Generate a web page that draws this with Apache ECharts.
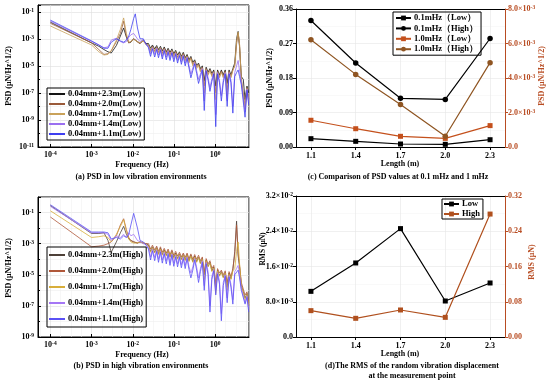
<!DOCTYPE html>
<html><head><meta charset="utf-8">
<script src="https://cdn.jsdelivr.net/npm/echarts@6/dist/echarts.min.js"></script>
<style>html,body{margin:0;padding:0;background:#fff}#c{width:550px;height:384px}</style>
</head><body><div id="c"></div>
<script>
// ---------- data: PSD spectra (Hz, μN/Hz^1/2) ----------
const freqHz = [1e-4, 1e-3, 1.5e-3, 2e-3, 2.5e-3, 3e-3, 4e-3, 5e-3, 6e-3, 7e-3, 8e-3, 9e-3, 0.0105, 0.0115, 0.013, 0.015, 0.018, 0.021,
0.024, 0.027, 0.030, 0.034, 0.038, 0.042, 0.047, 0.052, 0.058, 0.065,
0.072, 0.080, 0.089, 0.099, 0.11, 0.122, 0.136, 0.151, 0.168, 0.187,
0.208, 0.231, 0.257, 0.286, 0.318, 0.354, 0.394, 0.438, 0.487, 0.542,
0.603, 0.671, 0.746, 0.83, 0.923, 1.03, 1.14, 1.27, 1.41, 1.57,
1.75, 1.95, 2.17, 2.41, 2.68, 2.98, 3.3, 3.6, 3.9, 4.3,
4.8, 5.3, 5.9, 6.5];

const lowNames = ['0.04mm+2.3m(Low)', '0.04mm+2.0m(Low)', '0.04mm+1.7m(Low)', '0.04mm+1.4m(Low)', '0.04mm+1.1m(Low)'];
const highNames = ['0.04mm+2.3m(High)', '0.04mm+2.0m(High)', '0.04mm+1.7m(High)', '0.04mm+1.4m(High)', '0.04mm+1.1m(High)'];

const psdLow23 = [1.7e-2, 5e-4, 2.8e-4, 1.6e-4, 1.1e-4, 8.9e-5, 3.2e-4, 1.6e-3, 6.3e-3, 1.3e-3, 5e-4, 5.6e-4, 1e-3, 1.1e-3, 6.3e-4, 4.5e-4, 8e-4, 4.5e-4,
4.5e-4, 2e-4, 3.5e-4, 1.8e-4, 3.2e-4, 1.6e-4, 2.8e-4, 1.3e-4, 2.5e-4, 1.1e-4,
2e-4, 1e-4, 1.8e-4, 8e-5, 1.4e-4, 6.3e-5, 1.1e-4, 5e-5, 1e-4, 4e-5,
7e-5, 2.8e-5, 5e-5, 1.8e-5, 2.8e-5, 1.1e-5, 1.6e-5, 6.3e-6, 1e-5, 8e-7,
8e-6, 3.5e-6, 6.3e-6, 2.8e-6, 5e-6, 3.2e-7, 5e-6, 2.2e-6, 5e-6, 2.2e-6,
5e-6, 5e-7, 5e-6, 2.2e-6, 6.3e-6, 1.6e-5, 1e-3, 3.5e-3, 2.5e-4, 1.6e-6,
1e-6, 3.2e-8, 3.2e-7, 1e-7];
const psdLow20 = [1.4e-2, 5e-4, 1.6e-4, 7e-5, 8e-5, 1.3e-4, 6.3e-4, 2.5e-3, 2e-2, 1.6e-3, 5e-4, 6.3e-4, 1e-3, 1e-3, 5.6e-4, 4.5e-4, 7e-4, 4e-4,
3.5e-4, 1.4e-4, 2.8e-4, 1.3e-4, 2.5e-4, 1.1e-4, 2.2e-4, 8.9e-5, 2e-4, 8e-5,
1.6e-4, 7e-5, 1.4e-4, 5.6e-5, 1.1e-4, 4.5e-5, 8.9e-5, 3.5e-5, 8e-5, 2.8e-5,
5.6e-5, 2e-5, 4e-5, 1.3e-5, 2.2e-5, 8e-6, 1.3e-5, 4.5e-6, 8e-6, 3.2e-7,
6.3e-6, 2.5e-6, 5e-6, 2e-6, 4e-6, 1e-7, 4e-6, 1.6e-6, 4e-6, 1.6e-6,
4e-6, 1.6e-7, 4e-6, 1.6e-6, 5e-6, 1e-5, 4e-4, 2.5e-3, 3.2e-4, 1.1e-6,
8e-7, 1e-8, 2.5e-7, 3.5e-8];
const psdLow17 = [8.9e-3, 3.5e-4, 1.1e-4, 6.3e-5, 7e-5, 1.3e-4, 8e-4, 5e-3, 3.5e-2, 2.5e-3, 5.6e-4, 6.3e-4, 8.9e-4, 1e-3, 6.3e-4, 5e-4, 7e-4, 3.5e-4,
3.2e-4, 1.1e-4, 2.5e-4, 1e-4, 2.2e-4, 8.9e-5, 2e-4, 7e-5, 1.8e-4, 6.3e-5,
1.4e-4, 5.6e-5, 1.3e-4, 4.5e-5, 1e-4, 3.5e-5, 8e-5, 2.8e-5, 7e-5, 2.2e-5,
5e-5, 1.6e-5, 3.5e-5, 1e-5, 2e-5, 6.3e-6, 1.1e-5, 3.5e-6, 7e-6, 1e-7,
5.6e-6, 2e-6, 4.5e-6, 1.6e-6, 3.5e-6, 3.2e-8, 3.5e-6, 1.3e-6, 3.5e-6, 1.3e-6,
3.5e-6, 6.3e-8, 3.5e-6, 1.3e-6, 4.5e-6, 1e-5, 6.3e-4, 3.2e-3, 4e-4, 8.9e-7,
7e-7, 6.3e-9, 2.2e-7, 2.8e-8];
const psdLow14 = [2e-2, 6.3e-4, 3.5e-4, 2.2e-4, 2.5e-4, 8e-4, 1.1e-3, 6.3e-4, 5e-4, 6.3e-4, 1.3e-3, 2e-3, 2.5e-3, 2e-3, 1e-3, 6.3e-4, 8.9e-4, 4e-4,
2.8e-4, 8e-5, 2.2e-4, 7e-5, 2e-4, 6.3e-5, 1.8e-4, 5e-5, 1.6e-4, 4.5e-5,
1.3e-4, 4e-5, 1.1e-4, 3.2e-5, 8.9e-5, 2.5e-5, 7e-5, 2e-5, 6.3e-5, 1.6e-5,
4.5e-5, 1.1e-5, 2.5e-6, 7e-6, 1.8e-5, 4.5e-6, 1e-6, 2.5e-6, 6.3e-6, 2.5e-8,
5e-6, 1.4e-6, 2.5e-7, 1.1e-6, 3.2e-6, 2.5e-9, 3.2e-6, 8.9e-7, 6.3e-8, 8.9e-7,
3.2e-6, 2.5e-8, 3.2e-6, 8.9e-7, 1e-8, 3.2e-6, 1e-5, 2.5e-5, 4e-6, 6.3e-7,
6.3e-7, 4e-9, 2e-7, 2e-8];
const psdLow11 = [2.4e-2, 7e-4, 3.5e-4, 2e-4, 2e-4, 5.6e-4, 1e-3, 7e-4, 5.6e-4, 8e-4, 1.6e-3, 5e-3, 3.2e-2, 7e-2, 6.3e-3, 1e-3, 1e-3, 4e-4,
2.2e-4, 5e-5, 1.8e-4, 4.5e-5, 1.6e-4, 4e-5, 1.4e-4, 3.2e-5, 1.3e-4, 2.8e-5,
1e-4, 2.5e-5, 8.9e-5, 2e-5, 7e-5, 1.6e-5, 5.6e-5, 1.3e-5, 5e-5, 1e-5,
3.5e-5, 7e-6, 1.3e-6, 4.5e-6, 1.4e-5, 2.8e-6, 5e-7, 1.6e-6, 5e-6, 5e-9,
4e-6, 8.9e-7, 1.3e-7, 7e-7, 2.5e-6, 3.2e-10, 2.5e-6, 5.6e-7, 2.5e-8, 5.6e-7,
2.5e-6, 1e-8, 2.5e-6, 5.6e-7, 3.2e-9, 1.6e-6, 3.2e-6, 5e-6, 1.6e-6, 4e-7,
5e-7, 1.6e-9, 1.6e-7, 1.3e-8];

const psdHigh23 = [2.8e-1, 4.5e-3, 4.5e-3, 5e-3, 1.6e-3, 2.8e-4, 1.3e-3, 5e-3, 1.3e-2, 4e-3, 2e-3, 1.6e-3, 1.3e-3, 1.3e-3, 1.1e-3, 1.3e-3, 1.1e-3, 1e-3,
8e-4, 3.2e-4, 6.3e-4, 2.8e-4, 5.6e-4, 2.2e-4, 5e-4, 2e-4, 4e-4, 1.8e-4,
3.5e-4, 1.4e-4, 3.2e-4, 1.3e-4, 2.5e-4, 1.1e-4, 2.2e-4, 1e-4, 2e-4, 8.9e-5,
2e-4, 8e-5, 1.8e-4, 7e-5, 1.6e-4, 7e-5, 1.4e-4, 5.6e-5, 1.1e-4, 1e-5,
8.9e-5, 3.5e-5, 6.3e-5, 1.8e-5, 3.2e-5, 1.6e-6, 2e-5, 8.9e-6, 1.6e-5, 7e-6,
1.4e-5, 1.6e-6, 1.3e-5, 5.6e-6, 2e-5, 3.2e-4, 2.8e-2, 1.6e-4, 3.2e-5, 2.2e-6,
2e-6, 3.2e-7, 6.3e-7, 1.1e-7];
const psdHigh20 = [5.2e-2, 6.3e-4, 7e-4, 8e-4, 1e-3, 1.3e-3, 3.2e-3, 1.6e-2, 4e-2, 8e-3, 2.5e-3, 1.6e-3, 1.3e-3, 1.3e-3, 1.1e-3, 1.3e-3, 1.1e-3, 1e-3,
1e-3, 4.5e-4, 8e-4, 4e-4, 7e-4, 3.2e-4, 6.3e-4, 2.8e-4, 5e-4, 2.5e-4,
4.5e-4, 2e-4, 4e-4, 1.8e-4, 3.2e-4, 1.6e-4, 2.8e-4, 1.4e-4, 2.5e-4, 1.3e-4,
2.5e-4, 1.1e-4, 2.2e-4, 1e-4, 2e-4, 1e-4, 1.8e-4, 8e-5, 1.4e-4, 1.3e-5,
1.1e-4, 5e-5, 8e-5, 2.5e-5, 4e-5, 2.5e-6, 2.5e-5, 1.3e-5, 2e-5, 1e-5,
1.8e-5, 3.2e-6, 1.6e-5, 8e-6, 2.5e-5, 2e-4, 1.6e-2, 2.5e-4, 4e-5, 3.2e-6,
2.5e-6, 5e-7, 8e-7, 1.6e-7];
const psdHigh17 = [1.3e-1, 2.5e-3, 2.8e-3, 3.2e-3, 2.5e-3, 1.3e-3, 4e-3, 1.3e-2, 3.5e-2, 6.3e-3, 2e-3, 1.3e-3, 1.1e-3, 1.3e-3, 1.1e-3, 1.3e-3, 1.1e-3, 8.9e-4,
7e-4, 2.8e-4, 5.6e-4, 2.5e-4, 5e-4, 2e-4, 4.5e-4, 1.8e-4, 3.5e-4, 1.6e-4,
3.2e-4, 1.3e-4, 2.8e-4, 1.1e-4, 2.2e-4, 1e-4, 2e-4, 8.9e-5, 1.8e-4, 8e-5,
1.8e-4, 7e-5, 1.6e-4, 6.3e-5, 1.4e-4, 6.3e-5, 1.3e-4, 5e-5, 1e-4, 5e-6,
8e-5, 3.2e-5, 5.6e-5, 1.6e-5, 2.8e-5, 6.3e-7, 1.8e-5, 8e-6, 1.4e-5, 6.3e-6,
1.3e-5, 1e-6, 1.1e-5, 5e-6, 1.8e-5, 2.5e-5, 3.2e-4, 1.3e-3, 5e-5, 2e-6,
1.8e-6, 2.5e-7, 5.6e-7, 1e-7];
const psdHigh14 = [2.5e-1, 5e-3, 5e-3, 5e-3, 4e-3, 1.6e-3, 3.2e-3, 2.5e-3, 4e-3, 2.5e-3, 5e-3, 3.2e-3, 4e-3, 3.2e-3, 1.6e-3, 1.3e-3, 1e-3, 8.9e-4,
5.6e-4, 1.4e-4, 4.5e-4, 1.3e-4, 4e-4, 1e-4, 3.5e-4, 8.9e-5, 2.8e-4, 8e-5,
2.5e-4, 6.3e-5, 2.2e-4, 5.6e-5, 1.8e-4, 5e-5, 1.6e-4, 4.5e-5, 1.4e-4, 4e-5,
1.4e-4, 3.5e-5, 1.3e-5, 3.2e-5, 1.1e-4, 3.2e-5, 6.3e-6, 2.5e-5, 8e-5, 2e-6,
6.3e-5, 1.6e-5, 1e-7, 8e-6, 2.2e-5, 1e-6, 1.4e-5, 4e-6, 3.2e-8, 3.2e-6,
1e-5, 3.2e-7, 8.9e-6, 2.5e-6, 2.5e-7, 1.6e-5, 2.5e-5, 4e-5, 1e-5, 1.3e-6,
1.4e-6, 1.6e-7, 4.5e-7, 6.3e-8];
const psdHigh11 = [3.2e-1, 5.6e-3, 5.6e-3, 5.6e-3, 5e-3, 2e-3, 2.5e-3, 2e-3, 3.2e-3, 2.5e-3, 4e-3, 1.6e-2, 8.9e-2, 1.1e-1, 1e-2, 1.6e-3, 1.3e-3, 8e-4,
4.5e-4, 8.9e-5, 3.5e-4, 8e-5, 3.2e-4, 6.3e-5, 2.8e-4, 5.6e-5, 2.2e-4, 5e-5,
2e-4, 4e-5, 1.8e-4, 3.5e-5, 1.4e-4, 3.2e-5, 1.3e-4, 2.8e-5, 1.1e-4, 2.5e-5,
1.1e-4, 2.2e-5, 6.3e-6, 2e-5, 8.9e-5, 2e-5, 3.2e-6, 1.6e-5, 6.3e-5, 1e-6,
5e-5, 1e-5, 4e-8, 5e-6, 1.8e-5, 5e-7, 1.1e-5, 2.5e-6, 1.1e-8, 2e-6,
8e-6, 1.6e-7, 7e-6, 1.6e-6, 1.3e-7, 1e-5, 1.3e-5, 2e-5, 6.3e-6, 1e-6,
1.1e-6, 1.3e-7, 3.5e-7, 4e-8];

// ---------- data: panels (c) and (d) ----------
const lengths = [1.1, 1.4, 1.7, 2.0, 2.3];
const cNames = ['0.1mHz（Low）', '0.1mHz（High）', '1.0mHz（Low）', '1.0mHz（High）'];
const psd01Low = [0.0217, 0.0148, 0.0078, 0.0070, 0.0190];
const psd01High = [0.330, 0.219, 0.127, 0.124, 0.283];
const psd10Low = [1.55e-3, 1.06e-3, 6.2e-4, 5.0e-4, 1.24e-3];
const psd10High = [6.22e-3, 4.21e-3, 2.47e-3, 6.2e-4, 4.89e-3];
const dNames = ['Low', 'High'];
const rmsLow = [1.036e-2, 1.68e-2, 2.46e-2, 8.17e-3, 1.226e-2];
const rmsHigh = [0.0598, 0.0424, 0.0613, 0.0446, 0.279];

// ---------- styling ----------
const FONT = "'Liberation Serif','Times New Roman',serif";
const RED = '#b84c22';
const lowColors = ['#151515', '#9a5a3a', '#c9a25a', '#9b70f0', '#3f3ff0'];
const highColors = ['#4d4038', '#b0583a', '#d8ae3a', '#a577f5', '#5a50f5'];

function rich(color){
  return {
    b:{fontFamily:FONT,fontWeight:'bold',fontSize:8,color:color},
    s:{fontFamily:FONT,fontWeight:'bold',fontSize:5.5,color:color,verticalAlign:'top'}
  };
}
function powLabel(v){
  if (Math.abs(v - Math.round(v)) > 1e-6) return '';
  return '{b|10}{s|' + Math.round(v) + '}';
}
function sciLabel(v){
  if (Math.abs(v) < 1e-12) return '{b|0.0}';
  const e = Math.floor(Math.log10(v) + 1e-9);
  const m = v / Math.pow(10, e);
  return '{b|' + m.toFixed(1) + '×10}{s|' + e + '}';
}
const txt = {fontFamily:FONT,fontWeight:'bold',fontSize:8,color:'#000'};

function logAxisX(gi){
  return {type:'value', gridIndex:gi, min:-4.3, max:0.82, splitNumber:5,
    axisLine:{onZero:false,lineStyle:{color:'#000',width:1}},
    axisTick:{inside:true,length:3,lineStyle:{color:'#000'}},
    axisLabel:{formatter:powLabel, rich:rich('#000'), margin:4, showMinLabel:false, showMaxLabel:false},
    splitLine:{show:true,lineStyle:{color:'#dedede',width:0.6}},
    minorSplitLine:{show:true,lineStyle:{color:'#efefef',width:0.5}},
    minorTick:{show:false,splitNumber:4}};
}
function logAxisY(gi, min, max){
  return {type:'value', gridIndex:gi, min:min, max:max, interval:2,
    axisLine:{show:true,onZero:false,lineStyle:{color:'#000',width:1}},
    axisTick:{inside:true,length:3,lineStyle:{color:'#000'}},
    minorTick:{show:true,splitNumber:2,length:2,lineStyle:{color:'#000'}},
    axisLabel:{formatter:powLabel, rich:rich('#000'), margin:4, showMaxLabel:false},
    splitLine:{show:true,lineStyle:{color:'#dedede',width:0.6}},
    minorSplitLine:{show:true,lineStyle:{color:'#ebebeb',width:0.5}}};
}
function lenAxis(gi){
  return {type:'value', gridIndex:gi, min:1.0, max:2.4,
    axisLine:{onZero:false,lineStyle:{color:'#000',width:1}},
    axisTick:{length:3,customValues:lengths,lineStyle:{color:'#000'}},
    axisLabel:{customValues:lengths, formatter:v=>v.toFixed(1), ...txt, margin:5},
    splitLine:{show:true,lineStyle:{color:'#e6e6e6',width:0.6}}};
}
function topFrame(gi){
  return {type:'value', gridIndex:gi, position:'top', min:1.0, max:2.4,
    axisLine:{show:true,onZero:false,lineStyle:{color:'#000',width:1}},
    axisTick:{show:false}, axisLabel:{show:false}, splitLine:{show:false}};
}
function linY(gi, max, interval, fmt, color, pos){
  return {type:'value', gridIndex:gi, min:0, max:max, interval:interval, position:pos,
    axisLine:{show:true,onZero:false,lineStyle:{color:color,width:1}},
    axisTick:{show:true,length:3,lineStyle:{color:color}},
    axisLabel:{formatter:fmt, rich:rich(color), margin:3},
    splitLine:{show:pos==='left',lineStyle:{color:'#e6e6e6',width:0.6}},
    minorSplitLine:{show:pos==='left',lineStyle:{color:'#f2f2f2',width:0.5}},
    minorTick:{show:false,splitNumber:2}};
}

function spectrum(arr){ return freqHz.map((f,i)=>[Math.log10(f), Math.log10(arr[i])]); }
const lowData = [psdLow23, psdLow20, psdLow17, psdLow14, psdLow11];
const highData = [psdHigh23, psdHigh20, psdHigh17, psdHigh14, psdHigh11];

const series = [];
lowData.forEach((arr,i)=>series.push({name:lowNames[i], type:'line', xAxisIndex:0, yAxisIndex:0,
  data:spectrum(arr), symbol:'none', showSymbol:false, color:lowColors[i], lineStyle:{width:0.8}}));
highData.forEach((arr,i)=>series.push({name:highNames[i], type:'line', xAxisIndex:1, yAxisIndex:1,
  data:spectrum(arr), symbol:'none', showSymbol:false, color:highColors[i], lineStyle:{width:0.8}}));

function pts(arr){ return lengths.map((l,i)=>[l, arr[i]]); }
series.push({name:cNames[0], type:'line', xAxisIndex:2, yAxisIndex:2, data:pts(psd01Low), symbol:'rect', symbolSize:5, color:'#000', lineStyle:{width:1.2}});
series.push({name:cNames[1], type:'line', xAxisIndex:2, yAxisIndex:2, data:pts(psd01High), symbol:'circle', symbolSize:5.5, color:'#000', lineStyle:{width:1.2}});
series.push({name:cNames[2], type:'line', xAxisIndex:2, yAxisIndex:3, data:pts(psd10Low), symbol:'rect', symbolSize:5, color:'#c4501c', lineStyle:{width:1.2}});
series.push({name:cNames[3], type:'line', xAxisIndex:2, yAxisIndex:3, data:pts(psd10High), symbol:'circle', symbolSize:5.5, color:'#8f5522', lineStyle:{width:1.2}});
series.push({name:dNames[0], type:'line', xAxisIndex:4, yAxisIndex:4, data:pts(rmsLow), symbol:'rect', symbolSize:5, color:'#000', lineStyle:{width:1.2}});
series.push({name:dNames[1], type:'line', xAxisIndex:4, yAxisIndex:5, data:pts(rmsHigh), symbol:'rect', symbolSize:5, color:'#b0501e', lineStyle:{width:1.2}});

function legendBox(data, left, top, gap, pad, lineOnly){
  const l = {data:data, orient:'vertical', left:left, top:top, padding:pad, itemGap:gap,
    itemWidth:15, itemHeight:6, borderColor:'#000', borderWidth:1, selectedMode:false,
    textStyle:{fontFamily:FONT,fontWeight:'bold',fontSize:8.5,color:'#000',lineHeight:10, padding:[0,0,0,-2]},
    lineStyle:{width:2}};
  if (lineOnly) { l.icon = 'rect'; l.itemHeight = 2; l.itemWidth = 16; }
  return l;
}

function gtext(x, y, text, opts){
  opts = opts || {};
  return {type:'text', x:x, y:y, rotation:opts.rot || 0, silent:true,
    style:{text:text, fill:opts.color || '#000', font:'bold ' + (opts.size || 8) + 'px ' + FONT,
      align:'center', verticalAlign:'middle'}};
}

const option = {
  animation:false,
  backgroundColor:'#fff',
  grid:[
    {left:38, top:5, width:211, height:142, show:true, borderColor:'#000', borderWidth:1, backgroundColor:'transparent'},
    {left:38, top:197, width:211, height:140, show:true, borderColor:'#000', borderWidth:1, backgroundColor:'transparent'},
    {left:296, top:9, width:209, height:138},
    {left:296, top:196, width:209, height:141}
  ],
  xAxis:[logAxisX(0), logAxisX(1), lenAxis(2), topFrame(2), lenAxis(3), topFrame(3)],
  yAxis:[
    logAxisY(0, -11, -0.5),
    logAxisY(1, -9, 0),
    linY(2, 0.36, 0.09, v=>'{b|'+v.toFixed(2)+'}', '#000', 'left'),
    linY(2, 0.008, 0.002, sciLabel, RED, 'right'),
    linY(3, 0.032, 0.008, sciLabel, '#000', 'left'),
    linY(3, 0.32, 0.08, v=>'{b|'+v.toFixed(2)+'}', RED, 'right')
  ],
  legend:[
    legendBox(lowNames, 47, 88, 0, [1,3,1,2], true),
    legendBox(highNames, 47, 247, 6, [3,3,3,2], true),
    legendBox(cNames, 393, 12, 0.4, [1,3,1,2], false),
    legendBox(dNames, 442, 199, 0, [0,3,0,1], false)
  ],
  graphic:[
    gtext(9, 76, 'PSD (μN/Hz^1/2)', {rot:Math.PI/2}),
    gtext(142, 165, 'Frequency (Hz)'),
    gtext(141, 177, '(a) PSD in low vibration environments'),
    gtext(9, 268, 'PSD (μN/Hz^1/2)', {rot:Math.PI/2}),
    gtext(142, 355, 'Frequency (Hz)'),
    gtext(141, 366, '(b) PSD in high vibration environments'),
    gtext(270, 78, 'PSD (μN/Hz^1/2)', {rot:Math.PI/2}),
    gtext(542, 76, 'PSD (μN/Hz^1/2)', {rot:Math.PI/2, color:RED}),
    gtext(400, 164, 'Length (m)'),
    gtext(398, 177, '(c) Comparison of PSD values at 0.1 mHz and 1 mHz'),
    gtext(263, 249, 'RMS (μN)', {rot:Math.PI/2, size:7.5}),
    gtext(532, 262, 'RMS (μN)', {rot:Math.PI/2, color:RED}),
    gtext(400, 354, 'Length (m)'),
    gtext(412, 366, '(d)The RMS of the random vibration displacement'),
    gtext(412, 376, 'at the measurement point')
  ],
  series:series
};

const chart = echarts.init(document.getElementById('c'), null, {renderer:'canvas'});
chart.setOption(option);
</script>
</body></html>
